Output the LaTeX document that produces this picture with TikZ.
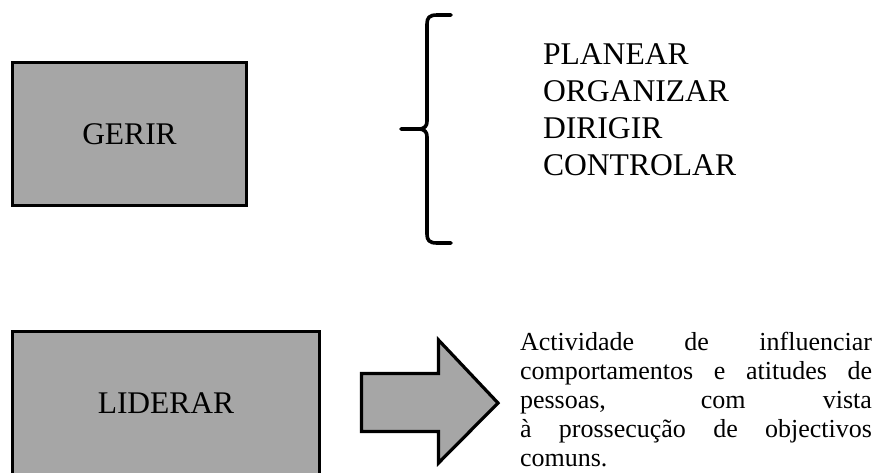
\documentclass[tikz,border=0pt]{standalone}
\usepackage{fontspec}
\setmainfont{Liberation Serif}
\definecolor{boxgray}{RGB}{166,166,166}
\tikzset{
  termbox/.style={draw=black, line width=3pt, fill=boxgray, rectangle,
    inner sep=0pt, font=\fontsize{31.5}{36}\selectfont},
  bracestroke/.style={draw=black, line width=3.6pt, line cap=round, line join=round},
  bigarrow/.style={draw=black, line width=3.2pt, fill=boxgray, line join=miter},
  plaintext/.style={inner sep=0pt, outer sep=0pt}
}
\begin{document}
\begin{tikzpicture}[x=1pt, y=-1pt]
  \clip (0,0) rectangle (878,472);
  \fill[white] (0,0) rectangle (878,472);

  % management box and its four functions
  \node[termbox, minimum width=234pt, minimum height=143pt] (gerir) at (129.5,134) {GERIR};

  \draw[bracestroke] (451,15) -- (437,15) .. controls (429,15) and (427,18) .. (427,24)
     -- (427,121) .. controls (427,126) and (425,129) .. (418,129) -- (401,129);
  \draw[bracestroke] (418,129) .. controls (425,129) and (427,132) .. (427,137)
     -- (427,234) .. controls (427,240) and (429,243) .. (437,243) -- (451,243);

  % anchored on the baseline of the last line
  \node[plaintext, anchor=base west, align=left, font=\fontsize{31.6}{36.7}\selectfont] (funcs) at (543,175)
    {PLANEAR\\ORGANIZAR\\DIRIGIR\\CONTROLAR};

  % leadership box, arrow and definition
  \node[termbox, minimum width=307pt, minimum height=145pt] (liderar) at (166,403.5) {LIDERAR};

  \draw[bigarrow] (361.5,373.5) -- (438.5,373.5) -- (438.5,340) -- (498,403)
     -- (438.5,463) -- (438.5,431.5) -- (361.5,431.5) -- cycle;

  \node[plaintext, anchor=base west, text width=352pt, align=justify,
        font=\fontsize{26}{29}\selectfont] (def) at (520,350)
    {\tolerance=10000\hbadness=10000\hyphenpenalty=10000
     Actividade de influenciar\linebreak
     comportamentos e atitudes de\linebreak
     pessoas, com vista\linebreak
     à prossecução de objectivos\linebreak
     comuns.};
\end{tikzpicture}
\end{document}
